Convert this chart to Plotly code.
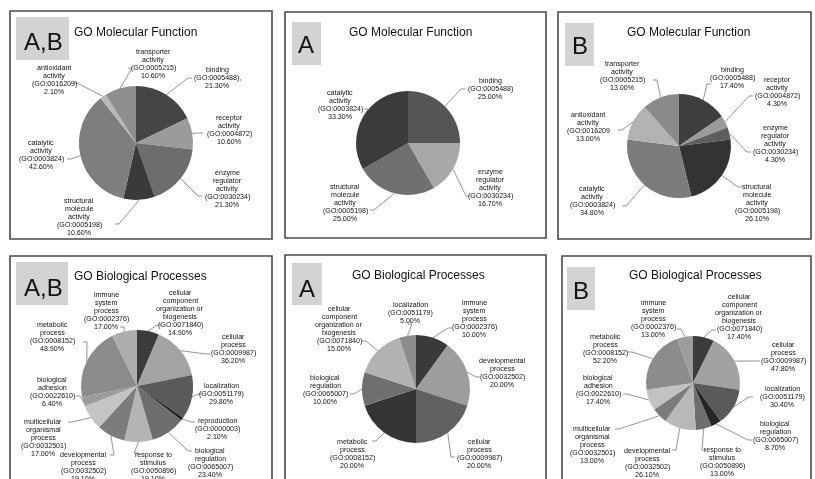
import math
import plotly.graph_objects as go

W, H = 815, 479
FONT = "Liberation Sans, Arial, sans-serif"

# ---------------- data ----------------
# GO Molecular Function, A,B
mf_ab_terms = ["binding", "receptor\nactivity", "enzyme\nregulator\nactivity",
               "structural\nmolecule\nactivity", "catalytic\nactivity",
               "antioxidant\nactivity", "transporter\nactivity"]
mf_ab_ids = ["(GO:0005488),", "(GO:0004872)", "(GO:0030234)", "(GO:0005198)",
             "(GO:0003824)", "(GO:0016209)", "(GO:0005215)"]
mf_ab_pct = [21.3, 10.6, 21.3, 10.6, 42.6, 2.1, 10.6]

# GO Molecular Function, A
mf_a_terms = ["binding", "enzyme\nregulator\nactivity",
              "structural\nmolecule\nactivity", "catalytic\nactivity"]
mf_a_ids = ["(GO:0005488)", "(GO:0030234)", "(GO:0005198)", "(GO:0003824)"]
mf_a_pct = [25.0, 16.7, 25.0, 33.3]

# GO Molecular Function, B
mf_b_terms = ["binding", "receptor\nactivity", "enzyme\nregulator\nactivity",
              "structural\nmolecule\nactivity", "catalytic\nactivity",
              "antioxidant\nactivity", "transporter\nactivity"]
mf_b_ids = ["(GO:0005488)", "(GO:0004872)", "(GO:0030234)", "(GO:0005198)",
            "(GO:0003824)", "(GO:0016209", "(GO:0005215)"]
mf_b_pct = [17.4, 4.3, 4.3, 26.1, 34.8, 13.0, 13.0]

# GO Biological Processes, A,B
bp_ab_terms = ["cellular\ncomponent\norganization or\nbiogenesis", "cellular\nprocess",
               "localization", "reproduction", "biological\nregulation",
               "response to\nstimulus", "developmental\nprocess",
               "multicellular\norganismal\nprocess", "biological\nadhesion",
               "metabolic\nprocess", "immune\nsystem\nprocess"]
bp_ab_ids = ["(GO:0071840)", "(GO:0009987)", "(GO:0051179)", "(GO:0000003)",
             "(GO:0065007)", "(GO:0050896)", "(GO:0032502)", "(GO:0032501)",
             "(GO:0022610)", "(GO:0008152)", "(GO:0002376)"]
bp_ab_pct = [14.9, 36.2, 29.8, 2.1, 23.4, 19.1, 19.1, 17.0, 6.4, 48.9, 17.0]

# GO Biological Processes, A
bp_a_terms = ["immune\nsystem\nprocess", "developmental\nprocess", "cellular\nprocess",
              "metabolic\nprocess", "biological\nregulation",
              "cellular\ncomponent\norganization or\nbiogenesis", "localization"]
bp_a_ids = ["(GO:0002376)", "(GO:0032502)", "(GO:0009987)", "(GO:0008152)",
            "(GO:0065007)", "(GO:0071840)", "(GO:0051179)"]
bp_a_pct = [10.0, 20.0, 20.0, 20.0, 10.0, 15.0, 5.0]

# GO Biological Processes, B
bp_b_terms = ["cellular\ncomponent\norganization or\nbiogenesis", "cellular\nprocess",
              "localization", "biological\nregulation", "response to\nstimulus",
              "developmental\nprocess", "multicellular\norganismal\nprocess",
              "biological\nadhesion", "metabolic\nprocess", "immune\nsystem\nprocess"]
bp_b_ids = ["(GO:0071840)", "(GO:0009987)", "(GO:0051179)", "(GO:0065007)",
            "(GO:0050896)", "(GO:0032502)", "(GO:0032501)", "(GO:0022610)",
            "(GO:0008152)", "(GO:0002376)"]
bp_b_pct = [17.4, 47.8, 30.4, 8.7, 13.0, 26.1, 13.0, 17.4, 52.2, 13.0]

# ---------------- layout / style ----------------
panels = [
    dict(tag="A,B", title="GO Molecular Function",
         terms=mf_ab_terms, ids=mf_ab_ids, pct=mf_ab_pct,
         box=(10, 11, 272, 239), tagbox=(16, 17, 69, 60), tagpos=(43, 42),
         titlepos=(135, 32), center=(136, 143), r=57,
         colors=["#454545", "#9b9b9b", "#6d6d6d", "#3a3a3a", "#7e7e7e", "#b8b8b8", "#8e8e8e"],
         labels=[(217, 70, 192, 78), (229, 118, 203, 133), (227, 173, 202, 196),
                 (79, 201, 115, 224), (41, 143, 67, 159), (54, 68, 73, 83),
                 (153, 52, 128, 68)]),
    dict(tag="A", title="GO Molecular Function",
         terms=mf_a_terms, ids=mf_a_ids, pct=mf_a_pct,
         box=(285, 12, 546, 238), tagbox=(292, 22, 321, 65), tagpos=(306, 44),
         titlepos=(410, 32), center=(408, 143), r=52,
         colors=["#555555", "#a8a8a8", "#707070", "#3b3b3b"],
         labels=[(491, 81, 465, 89), (490, 172, 470, 196), (345, 187, 370, 210),
                 (340, 93, 364, 109)]),
    dict(tag="B", title="GO Molecular Function",
         terms=mf_b_terms, ids=mf_b_ids, pct=mf_b_pct,
         box=(558, 12, 811, 239), tagbox=(565, 23, 594, 66), tagpos=(580, 45),
         titlepos=(688, 32), center=(679, 146), r=52,
         colors=["#3e3e3e", "#9a9a9a", "#5e5e5e", "#333333", "#7c7c7c", "#b3b3b3", "#8a8a8a"],
         labels=[(732, 70, 711, 84), (777, 80, 753, 96), (775, 128, 751, 152),
                 (757, 187, 742, 187), (592, 189, 622, 206), (588, 115, 618, 130),
                 (622, 64, 653, 80)]),
    dict(tag="A,B", title="GO Biological Processes",
         terms=bp_ab_terms, ids=bp_ab_ids, pct=bp_ab_pct,
         box=(10, 256, 272, 490), tagbox=(16, 262, 68, 305), tagpos=(43, 287),
         titlepos=(140, 276), center=(137, 386), r=56,
         colors=["#3b3b3b", "#a3a3a3", "#5a5a5a", "#202020", "#6e6e6e", "#b4b4b4",
                 "#7c7c7c", "#c4c4c4", "#9c9c9c", "#8b8b8b", "#adadad"],
         labels=[(180, 293, 161, 325), (233, 337, 210, 354), (222, 386, 202, 394),
                 (217, 421, 195, 422), (210, 451, 192, 451), (153, 455, 138, 453),
                 (83, 455, 110, 455), (43, 422, 68, 422), (52, 380, 76, 396),
                 (52, 325, 83, 342), (106, 295, 120, 327)]),
    dict(tag="A", title="GO Biological Processes",
         terms=bp_a_terms, ids=bp_a_ids, pct=bp_a_pct,
         box=(285, 255, 546, 490), tagbox=(292, 263, 322, 305), tagpos=(307, 288),
         titlepos=(418, 275), center=(416, 389), r=54,
         colors=["#3a3a3a", "#9d9d9d", "#616161", "#353535", "#6f6f6f", "#b2b2b2", "#8c8c8c"],
         labels=[(474, 303, 452, 328), (502, 361, 480, 377), (479, 442, 455, 457),
                 (352, 442, 372, 441), (325, 378, 350, 394), (339, 309, 362, 341),
                 (410, 305, 408, 324)]),
    dict(tag="B", title="GO Biological Processes",
         terms=bp_b_terms, ids=bp_b_ids, pct=bp_b_pct,
         box=(562, 256, 811, 490), tagbox=(567, 267, 595, 310), tagpos=(581, 290),
         titlepos=(695, 275), center=(693, 383), r=47,
         colors=["#3c3c3c", "#a2a2a2", "#5a5a5a", "#262626", "#6e6e6e", "#b8b8b8",
                 "#7c7c7c", "#c2c2c2", "#8c8c8c", "#9c9c9c"],
         labels=[(739, 297, 716, 330), (783, 345, 760, 361), (782, 389, 753, 397),
                 (775, 424, 752, 440), (722, 450, 706, 450), (647, 451, 672, 450),
                 (592, 429, 615, 429), (598, 378, 623, 394), (605, 337, 628, 352),
                 (653, 303, 677, 329)]),
]

LINE_H = 8.0
LABEL_SIZE = 7.1


def X(v):
    return v / W


def Y(v):
    return 1 - v / H


fig = go.Figure()
shapes, annotations = [], []

for p in panels:
    x0, y0, x1, y1 = p["box"]
    shapes.append(dict(type="rect", xref="paper", yref="paper",
                       x0=X(x0), x1=X(x1), y0=Y(y1), y1=Y(y0),
                       line=dict(color="#4a4a4a", width=1.6), fillcolor="rgba(0,0,0,0)"))
    tx0, ty0, tx1, ty1 = p["tagbox"]
    shapes.append(dict(type="rect", xref="paper", yref="paper",
                       x0=X(tx0), x1=X(tx1), y0=Y(ty1), y1=Y(ty0),
                       line=dict(width=0), fillcolor="#d3d3d3", layer="below"))
    annotations.append(dict(x=X(p["tagpos"][0]), y=Y(p["tagpos"][1]), xref="paper", yref="paper",
                            text=p["tag"], showarrow=False, xanchor="center", yanchor="middle",
                            font=dict(family=FONT, size=24, color="#111111")))
    annotations.append(dict(x=X(p["titlepos"][0]), y=Y(p["titlepos"][1]), xref="paper", yref="paper",
                            text=p["title"], showarrow=False, xanchor="center", yanchor="middle",
                            font=dict(family=FONT, size=12, color="#111111")))

    cx, cy = p["center"]
    r = p["r"]
    fig.add_trace(go.Pie(
        values=p["pct"], labels=[t.replace("\n", " ") for t in p["terms"]],
        sort=False, direction="clockwise", rotation=0,
        textinfo="none", hoverinfo="label+value", showlegend=False,
        marker=dict(colors=p["colors"], line=dict(width=0)),
        domain=dict(x=[X(cx - r), X(cx + r)], y=[Y(cy + r), Y(cy - r)]),
    ))

    # leader lines run from the middle of each slice's arc to its label
    total = sum(p["pct"])
    run = 0.0
    for term, gid, v, (lx, ly, ax, ay) in zip(p["terms"], p["ids"], p["pct"], p["labels"]):
        mid = (run + v / 2) / total * 2 * math.pi
        run += v
        ex = cx + r * math.sin(mid)
        ey = cy - r * math.cos(mid)
        bx = ax - 4 if ax > cx else ax + 4
        shapes.append(dict(type="path", xref="paper", yref="paper",
                           path=f"M {X(ex)},{Y(ey)} L {X(bx)},{Y(ay)} L {X(ax)},{Y(ay)}",
                           line=dict(color="#7a7a7a", width=0.8)))
        lines = term.split("\n") + [gid, f"{v:.2f}%"]
        for i, t in enumerate(lines):
            annotations.append(dict(x=X(lx), y=Y(ly + i * LINE_H), xref="paper", yref="paper",
                                    text=t, showarrow=False, xanchor="center", yanchor="middle",
                                    font=dict(family=FONT, size=LABEL_SIZE, color="#111111")))

fig.update_layout(
    width=W, height=H,
    margin=dict(l=0, r=0, t=0, b=0),
    paper_bgcolor="white", plot_bgcolor="white",
    shapes=shapes, annotations=annotations,
)

# grayscale text antialiasing for the small labels
fig.write_html("out.html",
               post_script="document.getElementById('{plot_id}').style.willChange='transform';")
